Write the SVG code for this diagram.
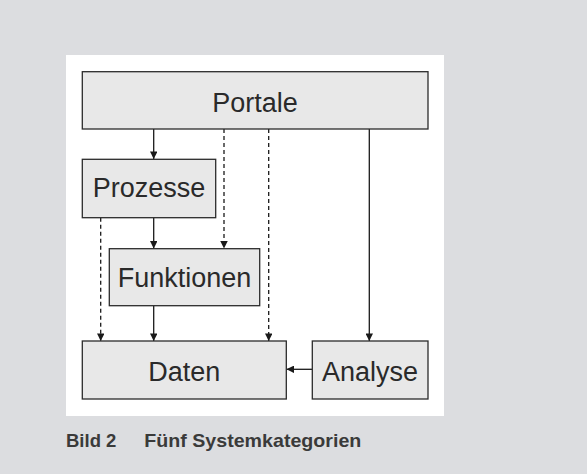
<svg xmlns="http://www.w3.org/2000/svg" width="587" height="474" viewBox="0 0 587 474">
<defs>
<style>
.box{fill:#e8e8e8;stroke:#2b2b2b;stroke-width:1.3}
.lbl{font-family:"Liberation Sans",Arial,sans-serif;font-size:27px;fill:#2a2a2a;text-anchor:middle}
.ln{stroke:#1a1a1a;stroke-width:1.3;fill:none}
.dash{stroke-dasharray:4,3}
.cap{font-family:"Liberation Sans",Arial,sans-serif;font-weight:bold;font-size:18.5px;fill:#3a3a3a}
</style>
<marker id="ah" viewBox="0 0 10 10" refX="10" refY="5" markerWidth="8" markerHeight="7.5" markerUnits="userSpaceOnUse" orient="auto">
<path d="M0,0 L10,5 L0,10 Z" fill="#1a1a1a"/>
</marker>
</defs>
<rect width="587" height="474" fill="#dcdde0"/>
<rect x="66" y="55" width="378" height="361" fill="#ffffff"/>
<g id="connectors">
<line class="ln" x1="153.7" y1="129" x2="153.7" y2="159" marker-end="url(#ah)"/>
<line class="ln dash" x1="224" y1="129" x2="224" y2="248.5" marker-end="url(#ah)"/>
<line class="ln dash" x1="268.7" y1="129" x2="268.7" y2="341" marker-end="url(#ah)"/>
<line class="ln" x1="369.3" y1="129" x2="369.3" y2="341" marker-end="url(#ah)"/>
<line class="ln" x1="153.7" y1="217.7" x2="153.7" y2="248.5" marker-end="url(#ah)"/>
<line class="ln dash" x1="100.7" y1="217.7" x2="100.7" y2="341" marker-end="url(#ah)"/>
<line class="ln" x1="153.7" y1="305.7" x2="153.7" y2="341" marker-end="url(#ah)"/>
<line class="ln" x1="312.3" y1="369.3" x2="286.5" y2="369.3" marker-end="url(#ah)"/>
</g>
<g id="portale">
<rect class="box" x="82.3" y="71.7" width="345.7" height="57.3"/>
<text class="lbl" x="255" y="111.5">Portale</text>
</g>
<g id="prozesse">
<rect class="box" x="82.3" y="159.3" width="133.4" height="58.4"/>
<text class="lbl" x="149" y="196.5">Prozesse</text>
</g>
<g id="funktionen">
<rect class="box" x="109.3" y="248.7" width="150.4" height="57"/>
<text class="lbl" x="184.5" y="286.5">Funktionen</text>
</g>
<g id="daten">
<rect class="box" x="82.3" y="341" width="204" height="58"/>
<text class="lbl" x="184.3" y="380.5">Daten</text>
</g>
<g id="analyse">
<rect class="box" x="312.3" y="341" width="115.7" height="58"/>
<text class="lbl" x="370" y="380.5">Analyse</text>
</g>
<text class="cap" x="66" y="446.5">Bild 2</text>
<text class="cap" x="144.3" y="446.5" textLength="217" lengthAdjust="spacingAndGlyphs">Fünf Systemkategorien</text>
</svg>
